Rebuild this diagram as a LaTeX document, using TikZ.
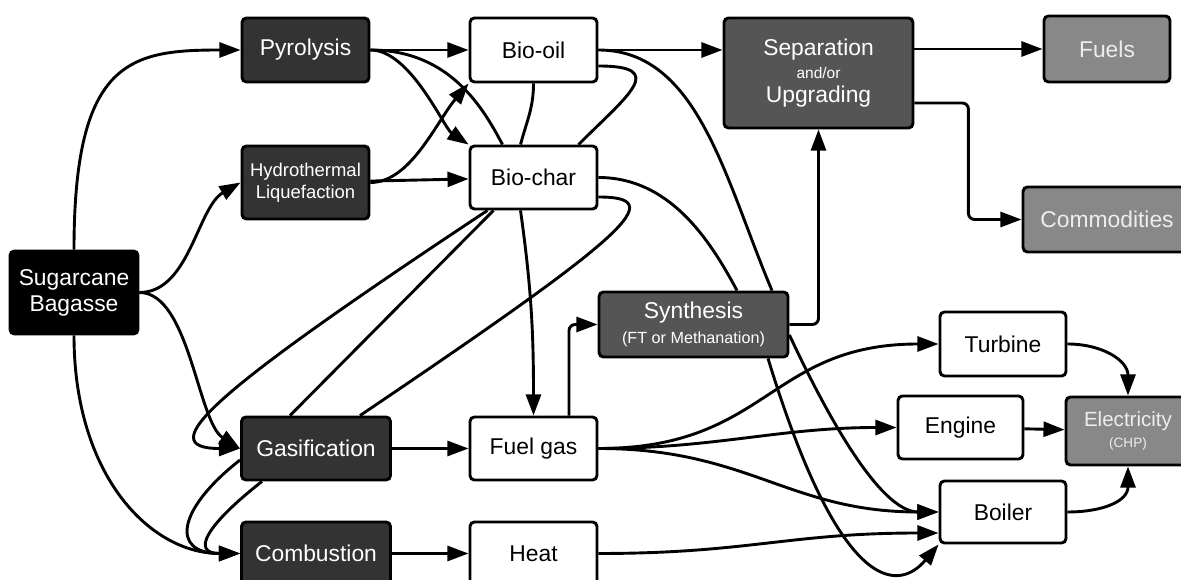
\documentclass[tikz,border=0pt]{standalone}
\usepackage{fontspec}
\setmainfont{Liberation Sans}
\usetikzlibrary{arrows.meta,calc}
\definecolor{rawfill}{HTML}{000000}
\definecolor{procfill}{HTML}{333333}
\definecolor{midfill}{HTML}{555555}
\definecolor{endfill}{HTML}{888888}
\definecolor{endtext}{HTML}{EDEDED}

\begin{document}
\begin{tikzpicture}[x=0.02cm, y=0.02cm, line width=1.65pt,
  >={Triangle[length=12pt,width=8.5pt]},
  box/.style={draw, rounded corners=2.5pt, inner sep=0pt, align=center,
    font=\fontsize{13}{15}\selectfont},
  boxsize/.style 2 args={minimum width=#1cm, minimum height=#2cm},
  rawbox/.style={box, fill=rawfill, text=white},
  procbox/.style={box, fill=procfill, text=white},
  midbox/.style={box, fill=midfill, text=white},
  endbox/.style={box, fill=endfill, text=endtext},
  prodbox/.style={box, fill=white},
  elbow/.style={rounded corners=3.5pt}]
\useasboundingbox (0,0) rectangle (1181,-580);
\clip (0,0) rectangle (1181,-580);

% feedstock and conversion routes
\node[rawbox, boxsize={2.56}{1.66}, font=\fontsize{13}{14.7}\selectfont]
  (bag) at (74,-292.5) {Sugarcane\\Bagasse};
\node[procbox, boxsize={2.54}{1.28}] (pyro) at (305.5,-50) {Pyrolysis};
\node[procbox, boxsize={2.54}{1.46}, font=\fontsize{10.5}{12.5}\selectfont]
  (htl) at (305.5,-182.5) {Hydrothermal\\Liquefaction};
\node[procbox, boxsize={2.98}{1.26}] (gas) at (316,-448.5) {Gasification};
\node[procbox, boxsize={2.98}{1.26}] (comb) at (316,-553.5) {Combustion};

% intermediate products
\node[prodbox, boxsize={2.54}{1.28}] (oil) at (533.5,-50) {Bio-oil};
\node[prodbox, boxsize={2.54}{1.26}] (char) at (533.5,-177.5) {Bio-char};
\node[prodbox, boxsize={2.54}{1.26}] (fgas) at (533.5,-448.5) {Fuel gas};
\node[prodbox, boxsize={2.54}{1.26}] (heat) at (533.5,-553.5) {Heat};

% upgrading
\node[midbox, boxsize={3.78}{1.3}, font=\fontsize{13}{14}\selectfont]
  (syn) at (693.5,-324.5) {Synthesis\\{\fontsize{9.2}{10}\selectfont (FT or Methanation)}};
\node[midbox, boxsize={3.78}{2.2}, font=\fontsize{13}{13.6}\selectfont]
  (sep) at (818.5,-73) {Separation\\{\fontsize{8.8}{10}\selectfont and/or}\\Upgrading};

% power
\node[prodbox, boxsize={2.52}{1.28}] (turb) at (1003,-344) {Turbine};
\node[prodbox, boxsize={2.5}{1.26}] (eng) at (960.5,-427.5) {Engine};
\node[prodbox, boxsize={2.52}{1.24}] (boil) at (1003,-512) {Boiler};

% end uses
\node[endbox, boxsize={2.52}{1.32}] (fuels) at (1107,-49) {Fuels};
\node[endbox, boxsize={3.36}{1.3}] (comm) at (1107,-219.5) {Commodities};
\node[endbox, boxsize={2.48}{1.36}, font=\fontsize{11.7}{12}\selectfont]
  (elec) at (1128,-431) {Electricity\\{\fontsize{7.7}{9}\selectfont (CHP)}};

\path[->]
  (bag.north) edge [out=90, in=180, out distance=3.8cm, in distance=2.2cm] (pyro.west)
  (bag.east) edge [out=0, in=-150, out distance=1cm, in distance=1cm] (htl.west)
  (bag.east) edge [out=0, in=148, out distance=1cm, in distance=1cm] (gas.west)
  (bag.south) edge [out=-90, in=180, out distance=2.8cm, in distance=1.8cm] (comb.west)
  (pyro) edge (oil)
  (pyro.east) edge [out=0, in=146, out distance=0.8cm, in distance=0.6cm] (char.north west)
  (htl.east) edge [out=0, in=-130, out distance=0.8cm, in distance=1cm] (oil.south west)
  (htl) edge (char)
  (gas) edge (fgas)
  (comb) edge (heat)
  (oil.east) edge (oil.east -| sep.west)
  (sep.east |- fuels.west) edge (fuels.west)
  ($(char.south)+(-13,0)$) edge [out=-82, in=90] (fgas.north)
  ($(char.south)+(-46,0)$) edge [out=-146.5, in=180, out distance=6.6cm, in distance=1.8cm] (gas.west)
  ($(gas.west)+(0,-11.5)$) edge [out=-142, in=180, out distance=1.6cm, in distance=1.4cm] (comb.west)
  ($(gas.south)+(-54,0)$) edge [out=-142, in=180, out distance=1.4cm, in distance=1cm] (comb.west);

% lines that run on behind the boxes
\path
  (pyro.east) edge [out=0, in=118, out distance=1.6cm, in distance=0.8cm] ($(char.north)+(-31,0)$)
  (oil.south) edge [out=-90, in=75] ($(char.north)+(-13,0)$)
  ($(oil.east)+(0,-16)$) edge [out=0, in=45, out distance=1.4cm, in distance=1.4cm] ($(char.north)+(45,0)$)
  (oil.east) edge [out=0, in=113, out distance=2cm, in distance=2.4cm] ($(syn.north)+(78.5,0)$)
  (char.east) edge [out=0, in=118, out distance=1.4cm, in distance=1.2cm] ($(syn.north)+(43.5,0)$)
  ($(char.south)+(-40,0)$) edge ($(gas.north)+(-26,0)$)
  ($(char.east)+(0,-19.5)$) edge [out=0, in=34, out distance=1.4cm, in distance=6.6cm] ($(gas.north)+(44,0)$);

\draw[->, elbow] ($(fgas.north)+(35.5,0)$) |- (syn.west);
\draw[->, elbow] (syn.east) -| (sep.south);
\draw[->, elbow] ($(sep.east)+(0,-30)$) -- ++(54,0) |- (comm.west);

\path[->]
  (fgas.east) edge [out=0, in=180, out distance=3.4cm, in distance=3.4cm] (turb.west)
  (fgas.east) edge [out=0, in=180] (eng.west)
  (fgas.east) edge [out=0, in=180, out distance=3cm, in distance=3cm] (boil.west)
  (heat.east) edge [out=0, in=180, out distance=3cm, in distance=3cm] ($(boil.west)+(0,-21)$)
  ($(syn.east)+(0,-10.5)$) edge [out=-65, in=180, out distance=1.6cm, in distance=1.2cm] (boil.west)
  ($(syn.south)+(74.5,0)$) edge [out=-73, in=-130, out distance=5.06cm, in distance=1.2cm] (boil.south west)
  (turb.east) edge [out=0, in=90, out distance=0.7cm, in distance=0.7cm] (elec.north)
  (eng) edge (elec)
  (boil.east) edge [out=0, in=-90, out distance=0.7cm, in distance=0.7cm] (elec.south);
\end{tikzpicture}
\end{document}
